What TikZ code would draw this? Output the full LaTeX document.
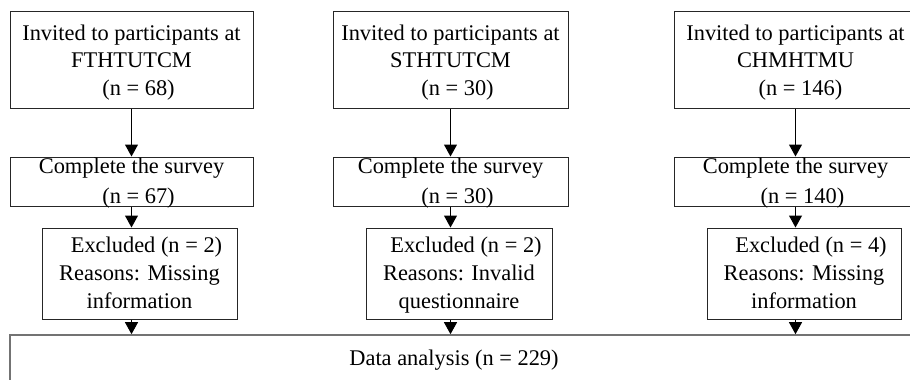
\documentclass[tikz,border=0pt]{standalone}
\usepackage{fontspec}
\setmainfont{Liberation Serif}
\usepackage{tikz}
\usetikzlibrary{arrows.meta, positioning}
\tikzstyle{box} = [rectangle, draw=black!85, line width=0.5pt, inner sep=0pt, align=center, font=\fontsize{11.2}{13.75}\selectfont]
\tikzstyle{invbox} = [box, minimum height=48.5pt, text height=42pt, text depth=6.5pt]
\tikzstyle{compbox} = [box, minimum height=24.5pt, text height=23pt, text depth=1.5pt, font=\fontsize{11.2}{15}\selectfont]
\tikzstyle{exbox} = [box, minimum height=45.5pt, text height=40pt, text depth=5.5pt, font=\fontsize{11.2}{14}\selectfont]
\tikzstyle{arrow} = [line width=0.5pt, -{Triangle[length=6pt, width=6.5pt]}]

\begin{document}
\begin{tikzpicture}[x=0.5pt, y=-0.5pt]

\useasboundingbox (0,0) rectangle (910,380);
\clip (0,0) rectangle (910,380);

% Invited
\node[invbox, minimum width=121.5pt] (inv1) at (131.5, 59.5) {Invited to participants at\\FTHTUTCM\\\hspace*{7pt}(n = 68)};
\node[invbox, minimum width=117.5pt] (inv2) at (450.5, 59.5) {Invited to participants at\\STHTUTCM\\\hspace*{7pt}(n = 30)};
\node[invbox, minimum width=121.5pt] (inv3) at (795.5, 59.5) {Invited to participants at\\CHMHTMU\\\hspace*{5pt}(n = 146)};

% Complete
\node[compbox, minimum width=121.5pt] (comp1) at (131.5, 181.5) {Complete the survey\\\hspace*{7pt}(n = 67)};
\node[compbox, minimum width=117.5pt] (comp2) at (450.5, 181.5) {Complete the survey\\\hspace*{7pt}(n = 30)};
\node[compbox, minimum width=121.5pt] (comp3) at (795.5, 181.5) {Complete the survey\\\hspace*{7pt}(n = 140)};

% Excluded
\node[exbox, minimum width=97.5pt] (ex1) at (139.5, 273.5) {\hspace*{7pt}Excluded (n = 2)\\Reasons: Missing\\information};
\node[exbox, minimum width=93pt] (ex2) at (459, 273.5) {\hspace*{7pt}Excluded (n = 2)\\Reasons: Invalid\\questionnaire};
\node[exbox, minimum width=97pt] (ex3) at (804, 273.5) {\hspace*{7pt}Excluded (n = 4)\\Reasons: Missing\\information};

% Analysis
\node[box, draw=black!55, line width=0.8pt, minimum width=455pt, minimum height=24pt, text height=15pt, text depth=9pt] (data) at (465, 359) {\hspace*{-11pt}Data analysis (n = 229)};

% Arrows
\foreach \i in {1,2,3} {
  \draw[arrow] (inv\i.south) -- (inv\i.south |- comp\i.north);
  \draw[arrow] (inv\i.south |- comp\i.south) -- (inv\i.south |- ex\i.north);
  \draw[arrow] (inv\i.south |- ex\i.south) -- (inv\i.south |- data.north);
}

\end{tikzpicture}
\end{document}
